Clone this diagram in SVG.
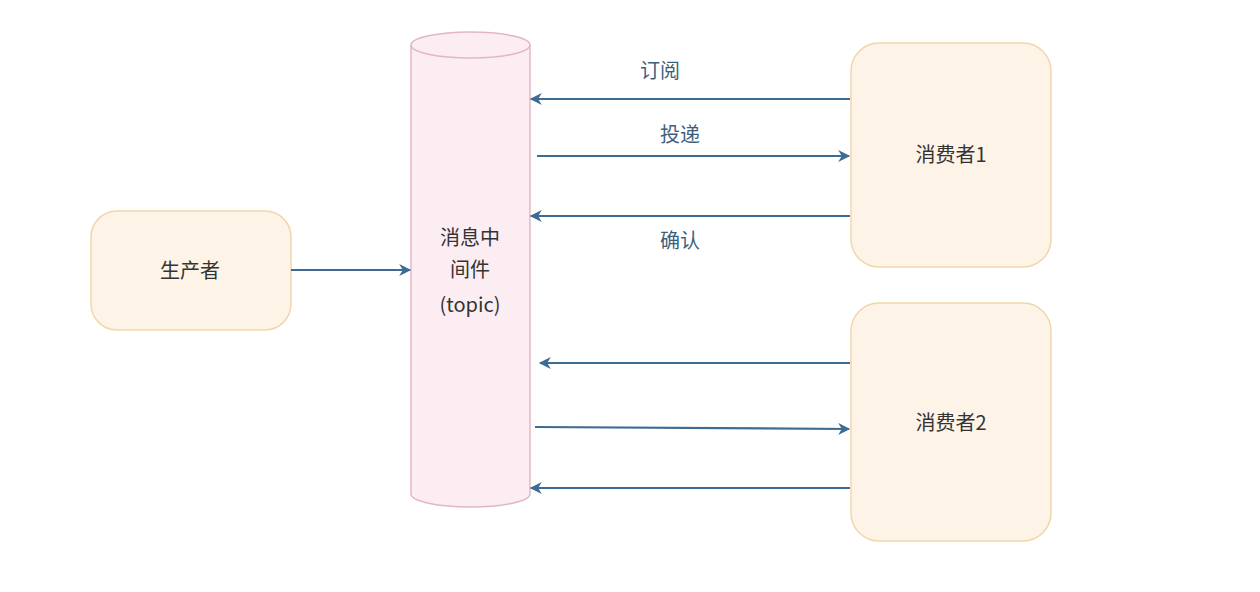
<svg xmlns="http://www.w3.org/2000/svg" width="1260" height="592" viewBox="0 0 1260 592">
<style>
.box{fill:#fdf3e7;stroke:#f2d6ab;stroke-width:1.5}
.cyl{fill:#fbedf2;stroke:#e3b6c6;stroke-width:1.5}
.t{font-family:"Noto Sans CJK SC","Liberation Sans",sans-serif;font-size:20px;fill:#333;text-anchor:middle}
.lbl{font-family:"Noto Sans CJK SC","Liberation Sans",sans-serif;font-size:20px;fill:#3e5f7c;text-anchor:middle}
.c{stroke:#3d6b94;stroke-width:2.2;fill:none;marker-end:url(#ah)}
</style>
<defs>
<marker id="ah" viewBox="0 0 10 10" refX="9" refY="5" markerWidth="13" markerHeight="12" markerUnits="userSpaceOnUse" orient="auto">
<path d="M0,0 L10,5 L0,10 L3,5 Z" fill="#3d6b94"/>
</marker>
</defs>
<rect width="1260" height="592" fill="#fff"/>
<g id="producer">
<rect class="box" x="91" y="211" width="200" height="119" rx="26"/>
<text class="t" x="190" y="278">生产者</text>
</g>
<g id="topic">
<path class="cyl" d="M411,45 L411,494 A59.5,13 0 0 0 530,494 L530,45 A59.5,13 0 0 0 411,45 Z"/>
<path d="M411,45 A59.5,13 0 0 0 530,45" fill="none" stroke="#e3b6c6" stroke-width="1.5"/>
<text class="t" x="470" y="245">消息中</text>
<text class="t" x="470" y="277">间件</text>
<text class="t" x="470" y="312">(topic)</text>
</g>
<g id="consumer1">
<rect class="box" x="851" y="43" width="200" height="224" rx="28"/>
<text class="t" x="951" y="162">消费者1</text>
</g>
<g id="consumer2">
<rect class="box" x="851" y="303" width="200" height="238" rx="28"/>
<text class="t" x="951" y="430">消费者2</text>
</g>
<g id="connectors">
<line class="c" x1="291" y1="270" x2="410" y2="270"/>
<line class="c" x1="850" y1="99" x2="531" y2="99"/>
<line class="c" x1="537" y1="156" x2="849" y2="156"/>
<line class="c" x1="850" y1="216" x2="531" y2="216"/>
<line class="c" x1="850" y1="363" x2="540" y2="363"/>
<path class="c" d="M535,427 L849,429"/>
<line class="c" x1="850" y1="488" x2="531" y2="488"/>
<text class="lbl" x="660" y="78">订阅</text>
<text class="lbl" x="680" y="142">投递</text>
<text class="lbl" x="680" y="248">确认</text>
</g>
</svg>
